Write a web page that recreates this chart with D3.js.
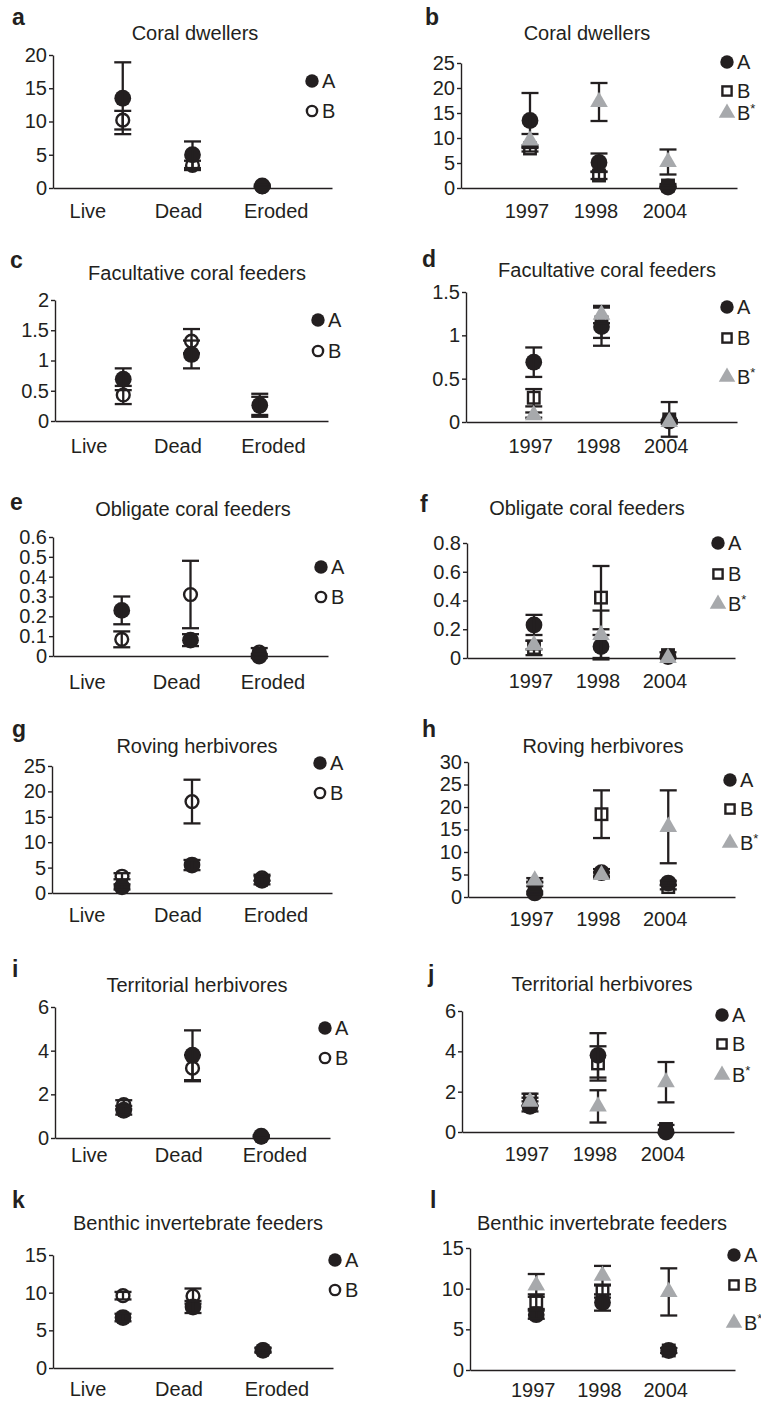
<!DOCTYPE html>
<html>
<head>
<meta charset="utf-8">
<script src="https://cdnjs.cloudflare.com/ajax/libs/d3/7.8.5/d3.min.js"></script>
<style>
  body { margin: 0; background: #fff; }
  svg { display: block; }
  text { font-family: "Liberation Sans", Arial, Helvetica, sans-serif; fill: #231f20; }
</style>
</head>
<body>
<svg id="chart" width="761" height="1403"></svg>
<script>
// categories
var siteCats = ["Live", "Dead", "Eroded"];
var yearCats = ["1997", "1998", "2004"];

// a - coral dwellers by substrate
var a_A = [13.5, 5.0, 0.3], a_Aerr = [5.4, 2.0, 0.2];
var a_B = [10.2, 3.4, 0.2], a_Berr = [1.4, 0.7, 0.1];
var a_ticks = [0, 5, 10, 15, 20];
// b - coral dwellers by year
var b_A = [13.5, 5.1, 0.2], b_Aerr = [5.5, 1.8, 0.2];
var b_B = [7.9, 2.5, 0.5], b_Berr = [0.6, 0.7, 0.3];
var b_Bs = [9.5, 17.2, 5.2], b_Bserr = [1.3, 3.8, 2.5];
var b_ticks = [0, 5, 10, 15, 20, 25];
// c - facultative coral feeders
var c_A = [0.69, 1.10, 0.26], c_Aerr = [0.18, 0.23, 0.19];
var c_B = [0.43, 1.32, 0.25], c_Berr = [0.15, 0.20, 0.15];
var c_ticks = [0, 0.5, 1, 1.5, 2];
// d
var d_A = [0.69, 1.10, 0.01], d_Aerr = [0.17, 0.22, 0.01];
var d_B = [0.28, 1.15, 0.03], d_Berr = [0.10, 0.18, 0.20];
var d_Bs = [0.08, 1.24, 0.0], d_Bserr = [0.03, 0.10, 0.02];
var d_ticks = [0, 0.5, 1, 1.5];
// e - obligate coral feeders
var e_A = [0.23, 0.08, 0.0], e_Aerr = [0.07, 0.03, 0.01];
var e_B = [0.084, 0.31, 0.02], e_Berr = [0.04, 0.17, 0.02];
var e_ticks = [0, 0.1, 0.2, 0.3, 0.4, 0.5, 0.6];
// f
var f_A = [0.23, 0.08, 0.01], f_Aerr = [0.07, 0.08, 0.0];
var f_B = [0.07, 0.42, 0.02], f_Berr = [0.05, 0.22, 0.02];
var f_Bs = [0.09, 0.16, 0.0], f_Bserr = [0.03, 0.17, 0.0];
var f_ticks = [0, 0.2, 0.4, 0.6, 0.8];
// g - roving herbivores
var g_A = [1.2, 5.5, 2.5], g_Aerr = [0.5, 1.0, 0.8];
var g_B = [3.3, 18.0, 3.0], g_Berr = [0.6, 4.3, 0.6];
var g_ticks = [0, 5, 10, 15, 20, 25];
// h
var h_A = [0.9, 5.4, 3.1], h_Aerr = [0.3, 0.8, 0.5];
var h_B = [2.9, 18.4, 2.2], h_Berr = [0.5, 5.3, 0.5];
var h_Bs = [3.7, 4.9, 15.6], h_Bserr = [0.5, 0.6, 8.1];
var h_ticks = [0, 5, 10, 15, 20, 25, 30];
// i - territorial herbivores
var i_A = [1.27, 3.79, 0.08], i_Aerr = [0.2, 1.14, 0.05];
var i_B = [1.53, 3.2, 0.05], i_Berr = [0.2, 0.6, 0.05];
var i_ticks = [0, 2, 4, 6];
// j
var j_A = [1.27, 3.8, 0.0], j_Aerr = [0.25, 1.1, 0.0];
var j_B = [1.6, 3.4, 0.15], j_Berr = [0.3, 0.85, 0.2];
var j_Bs = [1.5, 1.27, 2.47], j_Bserr = [0.2, 0.8, 1.0];
var j_ticks = [0, 2, 4, 6];
// k - benthic invertebrate feeders
var k_A = [6.7, 8.1, 2.35], k_Aerr = [0.5, 0.8, 0.3];
var k_B = [9.6, 9.55, 2.4], k_Berr = [0.5, 1.0, 0.3];
var k_ticks = [0, 5, 10, 15];
// l
var l_A = [6.8, 8.3, 2.4], l_Aerr = [0.5, 1.0, 0.3];
var l_B = [8.4, 9.7, 2.4], l_Berr = [0.9, 0.8, 0.3];
var l_Bs = [10.4, 11.6, 9.6], l_Bserr = [1.4, 1.2, 2.9];
var l_ticks = [0, 5, 10, 15];

var ink = "#231f20", grey = "#a7a9ac";

var panels = [
  {id: "a", title: "Coral dwellers", cats: siteCats, ticks: a_ticks,
   series: [["B", a_B, a_Berr], ["A", a_A, a_Aerr]],
   x0: 53, x1: 332, yTop: 55, yZero: 188, labY: 218, let: [12, 25], tx: 195, ty: 40, leg: [312, 81, 111]},
  {id: "b", title: "Coral dwellers", cats: yearCats, ticks: b_ticks,
   series: [["B", b_B, b_Berr], ["A", b_A, b_Aerr], ["Bs", b_Bs, b_Bserr]],
   x0: 461, x1: 737, yTop: 63, yZero: 188, labY: 218, let: [425, 25], tx: 587, ty: 40, leg: [727, 62, 91, 113]},
  {id: "c", title: "Facultative coral feeders", cats: siteCats, ticks: c_ticks,
   series: [["B", c_B, c_Berr], ["A", c_A, c_Aerr]],
   x0: 55, x1: 328, yTop: 300, yZero: 421, labY: 453, let: [10, 268], tx: 197, ty: 280, leg: [318, 320, 351]},
  {id: "d", title: "Facultative coral feeders", cats: yearCats, ticks: d_ticks,
   series: [["B", d_B, d_Berr], ["A", d_A, d_Aerr], ["Bs", d_Bs, d_Bserr]],
   x0: 466, x1: 737, yTop: 292, yZero: 422, labY: 453, let: [422, 267], tx: 607, ty: 277, leg: [727, 307, 338, 377]},
  {id: "e", title: "Obligate coral feeders", cats: siteCats, ticks: e_ticks,
   series: [["B", e_B, e_Berr], ["A", e_A, e_Aerr]],
   x0: 53, x1: 328, yTop: 537, yZero: 656, labY: 689, let: [10, 510], tx: 193, ty: 516, leg: [321, 567, 597]},
  {id: "f", title: "Obligate coral feeders", cats: yearCats, ticks: f_ticks,
   series: [["B", f_B, f_Berr], ["A", f_A, f_Aerr], ["Bs", f_Bs, f_Bserr]],
   x0: 467, x1: 735, yTop: 543, yZero: 658, labY: 688, let: [420, 512], tx: 587, ty: 515, leg: [718, 543, 574, 604]},
  {id: "g", title: "Roving herbivores", cats: siteCats, ticks: g_ticks,
   series: [["B", g_B, g_Berr], ["A", g_A, g_Aerr]],
   x0: 52, x1: 332, yTop: 766, yZero: 893, labY: 922, let: [12, 737], tx: 197, ty: 753, leg: [320, 763, 793]},
  {id: "h", title: "Roving herbivores", cats: yearCats, ticks: h_ticks,
   series: [["B", h_B, h_Berr], ["A", h_A, h_Aerr], ["Bs", h_Bs, h_Bserr]],
   x0: 468, x1: 735, yTop: 762, yZero: 897, labY: 926, let: [422, 737], tx: 603, ty: 753, leg: [730, 780, 809, 843]},
  {id: "i", title: "Territorial herbivores", cats: siteCats, ticks: i_ticks,
   series: [["B", i_B, i_Berr], ["A", i_A, i_Aerr]],
   x0: 55, x1: 330, yTop: 1007, yZero: 1138, labY: 1162, let: [12, 977], tx: 197, ty: 992, leg: [325, 1028, 1058]},
  {id: "j", title: "Territorial herbivores", cats: yearCats, ticks: j_ticks,
   series: [["B", j_B, j_Berr], ["A", j_A, j_Aerr], ["Bs", j_Bs, j_Bserr]],
   x0: 462, x1: 734, yTop: 1011, yZero: 1132, labY: 1161, let: [428, 982], tx: 602, ty: 991, leg: [722, 1015, 1044, 1075]},
  {id: "k", title: "Benthic invertebrate feeders", cats: siteCats, ticks: k_ticks,
   series: [["B", k_B, k_Berr], ["A", k_A, k_Aerr]],
   x0: 53, x1: 333, yTop: 1255, yZero: 1368, labY: 1396, let: [12, 1208], tx: 198, ty: 1230, leg: [335, 1260, 1290]},
  {id: "l", title: "Benthic invertebrate feeders", cats: yearCats, ticks: l_ticks,
   series: [["B", l_B, l_Berr], ["A", l_A, l_Aerr], ["Bs", l_Bs, l_Bserr]],
   x0: 470, x1: 735, yTop: 1248, yZero: 1370, labY: 1397, let: [430, 1208], tx: 602, ty: 1230, leg: [734, 1255, 1285, 1323]}
];

var svg = d3.select("#chart");
var fmt = function(d) { return String(+d.toFixed(2)); };
// label spots for Live / Dead / Eroded sit off the points, like the original
var siteLabelAt = [0.5, 1.8, 3.2];

function marker(g, kind, cx, cy, big, site) {
  var s = big ? 1 : 0.8;
  if (kind === "A") {
    g.append("circle").attr("cx", cx).attr("cy", cy).attr("r", 8.4 * s).attr("fill", ink);
  } else if (kind === "B" && site) {
    g.append("circle").attr("cx", cx).attr("cy", cy).attr("r", 6.4 * s)
      .attr("fill", "#fff").attr("stroke", ink).attr("stroke-width", 2.4);
  } else if (kind === "B") {
    var w = 11.5 * s;
    g.append("rect").attr("x", cx - w / 2).attr("y", cy - w / 2).attr("width", w).attr("height", w)
      .attr("fill", "#fff").attr("stroke", ink).attr("stroke-width", 2.4);
  } else {
    g.append("path").attr("transform", "translate(" + cx + "," + cy + ")")
      .attr("d", d3.symbol(d3.symbolTriangle, (big ? 135 : 118)))
      .attr("fill", grey);
  }
}

function errbar(g, cx, y, m, e) {
  if (!e) return;
  var top = y(m + e), bot = y(m - e);
  g.append("line").attr("x1", cx).attr("x2", cx).attr("y1", top).attr("y2", bot)
    .attr("stroke", ink).attr("stroke-width", 2.3);
  [top, bot].forEach(function(v) {
    g.append("line").attr("x1", cx - 8.5).attr("x2", cx + 8.5).attr("y1", v).attr("y2", v)
      .attr("stroke", ink).attr("stroke-width", 2.3);
  });
}

panels.forEach(function(p) {
  var site = p.cats === siteCats;
  var g = svg.append("g");
  var x = d3.scaleLinear().domain([0, 4]).range([p.x0, p.x1]);
  var y = d3.scaleLinear().domain([0, d3.max(p.ticks)]).range([p.yZero, p.yTop]);

  g.append("text").attr("x", p.let[0]).attr("y", p.let[1])
    .style("font-size", "23px").style("font-weight", "bold").text(p.id);
  g.append("text").attr("x", p.tx).attr("y", p.ty).attr("text-anchor", "middle")
    .style("font-size", "20px").text(p.title);

  var ya = g.append("g").attr("transform", "translate(" + p.x0 + ",0)")
    .call(d3.axisLeft(y).tickValues(p.ticks).tickFormat(fmt).tickSize(4).tickPadding(2).tickSizeOuter(0));
  ya.selectAll("path, line").attr("stroke", ink).attr("stroke-width", 1.4);
  ya.selectAll("text").style("font-size", "20px").attr("fill", ink);

  var xa = g.append("g").attr("transform", "translate(0," + p.yZero + ")")
    .call(d3.axisBottom(x).tickValues([]).tickSizeOuter(0));
  xa.select("path").attr("stroke", ink).attr("stroke-width", 1.4);

  p.cats.forEach(function(c, i) {
    var lx = site ? x(siteLabelAt[i]) : x(i + 1) - 3;
    g.append("text").attr("x", lx).attr("y", p.labY).attr("text-anchor", "middle")
      .style("font-size", "20px").text(c);
  });

  p.series.forEach(function(s) {
    var kind = s[0], means = s[1], errs = s[2];
    means.forEach(function(m, i) {
      var cx = x(i + 1), cy = y(m);
      if (kind === "Bs") {
        errbar(g, cx, y, m, errs[i]);
        marker(g, kind, cx, cy, true, site);
      } else {
        marker(g, kind, cx, cy, true, site);
        errbar(g, cx, y, m, errs[i]);
      }
    });
  });

  // legend
  var keys = site ? ["A", "B"] : ["A", "B", "Bs"];
  keys.forEach(function(k, i) {
    var ly = p.leg[i + 1];
    marker(g, k, p.leg[0], ly, false, site);
    var t = g.append("text").attr("x", p.leg[0] + 10).attr("y", ly + 7).style("font-size", "20px");
    if (k === "Bs") {
      t.text("B");
      t.append("tspan").attr("dy", -7).style("font-size", "13px").text("*");
    } else {
      t.text(k);
    }
  });
});
</script>
</body>
</html>
